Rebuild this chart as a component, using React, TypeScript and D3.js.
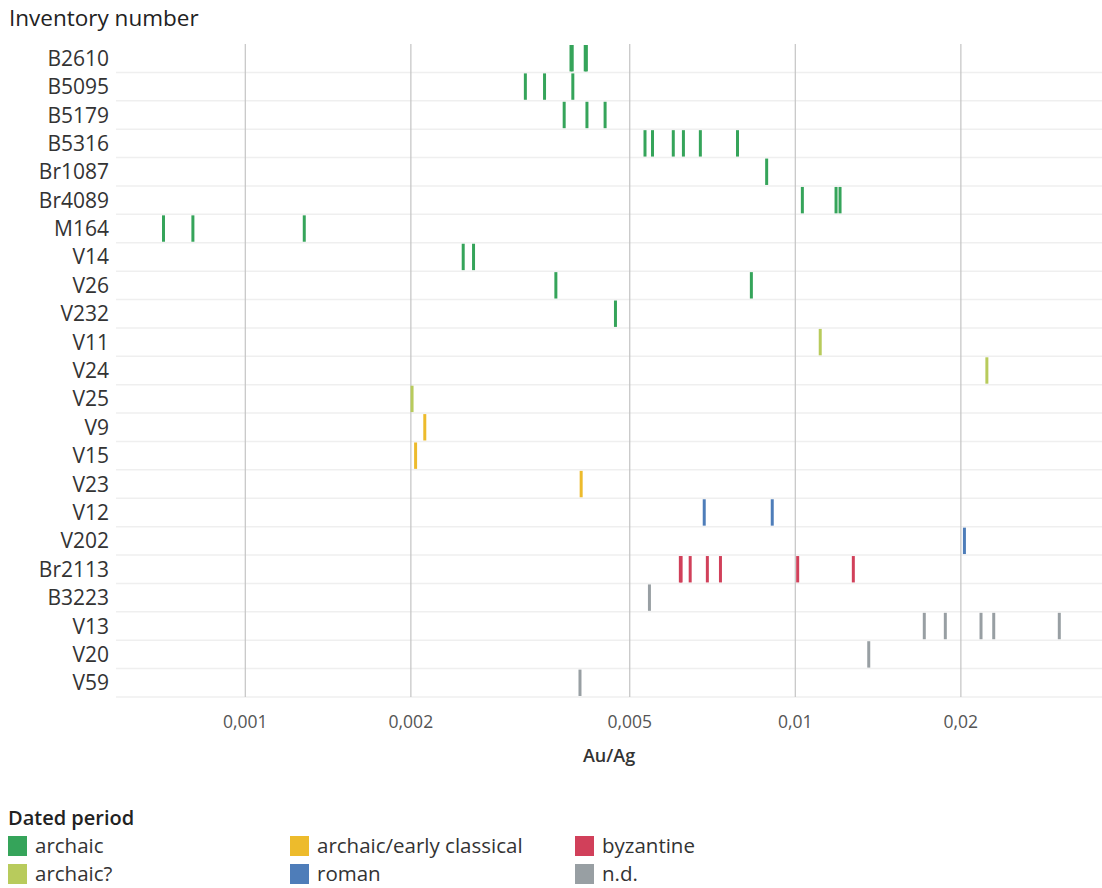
import React from "react";
import * as d3 from "d3";

const categories = ["B2610","B5095","B5179","B5316","Br1087","Br4089","M164","V14","V26","V232","V11","V24","V25","V9","V15","V23","V12","V202","Br2113","B3223","V13","V20","V59"];
const periods = ["archaic","archaic?","archaic/early classical","roman","byzantine","n.d."];
const periodColors = ["#35A45A","#B8CB5C","#EDBB2C","#4E7DB9","#D1405A","#989FA3"];

const rowPeriod = ["archaic","archaic","archaic","archaic","archaic","archaic","archaic","archaic","archaic","archaic","archaic?","archaic?","archaic?","archaic/early classical","archaic/early classical","archaic/early classical","roman","roman","byzantine","n.d.","n.d.","n.d.","n.d."];
const rowValues: number[][] = [
  [0.00391, 0.00393, 0.00415, 0.00417],
  [0.00323, 0.00350, 0.00394],
  [0.00380, 0.00418, 0.00451],
  [0.00533, 0.00550, 0.00600, 0.00626, 0.00672, 0.00785],
  [0.00887],
  [0.0103, 0.01186, 0.01206],
  [0.000710, 0.000803, 0.00128],
  [0.00249, 0.00260],
  [0.00367, 0.00832],
  [0.00471],
  [0.0111],
  [0.0223],
  [0.00201],
  [0.00212],
  [0.00204],
  [0.00408],
  [0.00683, 0.00908],
  [0.0203],
  [0.00618, 0.00620, 0.00644, 0.00692, 0.00731, 0.0101, 0.01275],
  [0.00543],
  [0.01716, 0.01874, 0.02176, 0.02295, 0.0302],
  [0.0136],
  [0.00406],
];
const tickValues = [0.001, 0.002, 0.005, 0.01, 0.02];
const tickLabels = ["0,001", "0,002", "0,005", "0,01", "0,02"];

const legendOrder = [
  ["archaic", "archaic?"],
  ["archaic/early classical", "roman"],
  ["byzantine", "n.d."],
];

export default function App() {
  const W = 1102, H = 888;
  const left = 116, right = 1102, top = 44, bottom = 697;
  const font = "'Open Sans', 'Noto Sans', sans-serif";
  const x = d3.scaleLog().domain([0.001, 0.01]).range([245.3, 795.3]);
  const y = d3.scaleBand<string>().domain(categories).range([top, bottom]).padding(0);
  const color = d3.scaleOrdinal<string, string>().domain(periods).range(periodColors);
  const bw = y.bandwidth();
  const legendX = [8, 290, 575];
  const legendY = [846, 874];
  return (
    <svg width={W} height={H} style={{ position: "absolute", left: 0, top: 0, background: "#fff" }} fontFamily={font}>
      <text x={9} y={26} fontSize={22.5} fill="#222">Inventory number</text>
      {categories.map((c) => (
        <line key={"s" + c} x1={left} x2={right} y1={(y(c) as number) + bw} y2={(y(c) as number) + bw} stroke="#efefef" strokeWidth={1.5} />
      ))}
      {tickValues.map((t) => (
        <line key={"g" + t} x1={x(t)} x2={x(t)} y1={top} y2={bottom} stroke="#c4c4c4" strokeWidth={1.2} />
      ))}
      {categories.map((c) => (
        <text key={"l" + c} x={109} y={(y(c) as number) + bw / 2} dy="0.36em" textAnchor="end" fontSize={21} fill="#333">{c}</text>
      ))}
      {categories.map((c, i) =>
        rowValues[i].map((v, j) => (
          <line key={c + j} x1={x(v)} x2={x(v)} y1={(y(c) as number) + 1} y2={(y(c) as number) + bw - 1} stroke={color(rowPeriod[i])} strokeWidth={3} />
        ))
      )}
      {tickValues.map((t, i) => (
        <text key={"t" + t} x={x(t)} y={728} textAnchor="middle" fontSize={17.5} fill="#555">{tickLabels[i]}</text>
      ))}
      <text x={609} y={762} textAnchor="middle" fontSize={18} fill="#333" fontWeight={600}>Au/Ag</text>
      <text x={8} y={825} fontSize={20} fill="#222" fontWeight={600}>Dated period</text>
      {legendOrder.map((col, ci) =>
        col.map((p, ri) => (
          <g key={p}>
            <rect x={legendX[ci]} y={legendY[ri] - 10} width={19} height={20} fill={color(p)} />
            <text x={legendX[ci] + 27} y={legendY[ri]} dy="0.35em" fontSize={20.5} fill="#333">{p}</text>
          </g>
        ))
      )}
    </svg>
  );
}
